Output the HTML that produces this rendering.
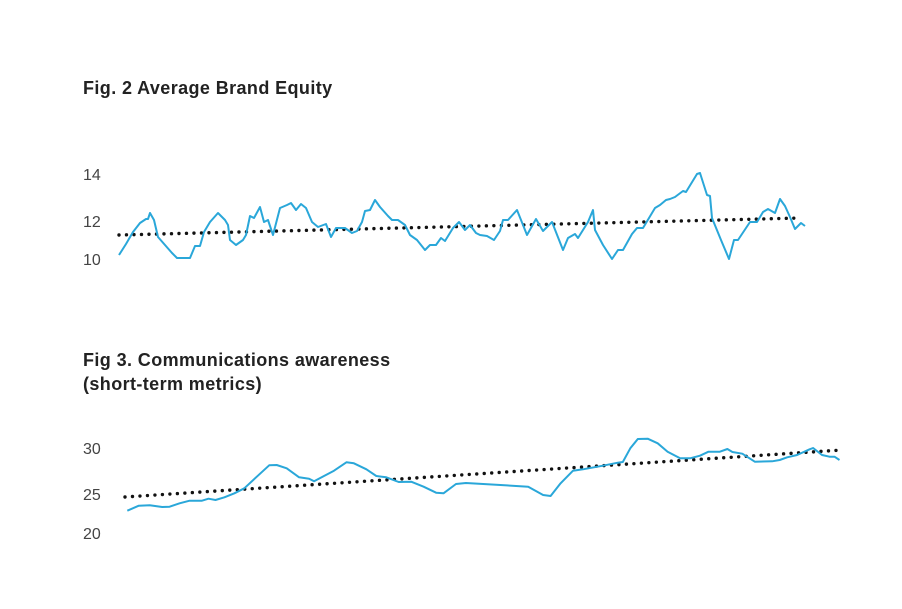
<!DOCTYPE html>
<html><head><meta charset="utf-8"><style>
body{margin:0;background:#fff;}
svg{display:block}
.t{font-family:"Liberation Sans",sans-serif;font-weight:bold;font-size:18px;letter-spacing:0.4px;fill:#222}
.l{font-family:"Liberation Sans",sans-serif;font-size:16px;fill:#444}
</style></head><body>
<svg width="902" height="609" viewBox="0 0 902 609">
<rect width="902" height="609" fill="#fff"/>
<text class="t" x="83" y="94">Fig. 2 Average Brand Equity</text>
<text class="l" x="83" y="180">14</text>
<text class="l" x="83" y="227">12</text>
<text class="l" x="83" y="265">10</text>
<text class="t" x="83" y="366">Fig 3. Communications awareness</text>
<text class="t" x="83" y="390">(short-term metrics)</text>
<text class="l" x="83" y="454">30</text>
<text class="l" x="83" y="500">25</text>
<text class="l" x="83" y="539">20</text>
<line x1="119" y1="235" x2="800" y2="218" stroke="#111" stroke-width="3.4" stroke-linecap="round" stroke-dasharray="0 7.5"/>
<polyline fill="none" stroke="#2aa7d9" stroke-width="2" stroke-linejoin="round" points="119,255 126,244 133,232 140,223 146,219 148,219 150,213 154,220 158,237 165,245 172,253 177,258 190,258 195,246 200,246 204,232 210,222 218,213 225,220 228,225 230,240 236,245 243,240 246,235 250,216 254,218 260,207 264,222 268,220 273,235 280,208 287,205 291,203 296,210 301,204 306,208 312,222 318,227 326,224 331,237 336,228 345,228 352,233 357,231 362,222 365,211 370,210 375,200 380,207 388,216 392,220 398,220 405,225 410,235 417,240 425,250 430,245 436,245 441,238 445,241 453,228 459,222 465,230 470,225 476,233 480,235 487,236 494,240 500,231 503,220 508,220 517,210 527,235 536,219 543,231 552,222 563,250 568,238 575,234 578,238 588,222 593,210 595,230 603,245 612,259 618,250 623,250 632,234 637,228 643,228 655,208 660,205 666,200 670,199 675,197 683,191 686,192 697,174 700,173 707,195 710,196 712,218 721,240 729,259 734,240 738,240 746,228 750,222 757,222 763,212 768,209 775,213 780,199 785,206 790,217 795,229 801,223 805,226"/>
<line x1="125" y1="497" x2="842" y2="450" stroke="#111" stroke-width="3.4" stroke-linecap="round" stroke-dasharray="0 7.5"/>
<polyline id="p3" fill="none" stroke="#2aa7d9" stroke-width="2" stroke-linejoin="round" points=""/>
</svg>
<script>
var a=[[95,272],[118,257],[140,256],[165,261],[180,260],[200,250],[220,242],[245,242],[258,236],[272,240],[290,232],[310,220],[330,205],[355,170],[380,136],[395,135],[415,145],[440,172],[460,176],[470,184],[490,168],[510,152],[535,127],[550,130],[575,148],[595,168],[615,172],[640,186],[665,185],[690,200],[715,218],[730,220],[755,192],[775,189],[900,200],[930,225],[945,228],[965,190],[990,152],[1010,148],[1050,137],[1080,128],[1090,126],[1105,85],[1120,57],[1140,56],[1160,70],[1180,95],[1205,115],[1225,115],[1245,107],[1262,95],[1285,95],[1300,87],[1310,96],[1330,101],[1355,125],[1390,124],[1405,120],[1420,112],[1440,105],[1465,88],[1472,84],[1490,105],[1505,110],[1515,110],[1525,120]];
document.getElementById('p3').setAttribute('points',a.map(function(p){return (80+p[0]*0.498).toFixed(1)+','+(420+p[1]/3).toFixed(1)}).join(' '));
</script>
</body></html>
